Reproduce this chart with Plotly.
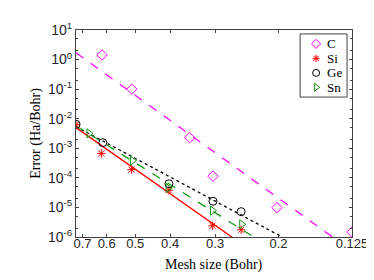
import numpy as np
import plotly.graph_objects as go

# ---- data ----
h_C = [0.618, 0.511, 0.353, 0.304, 0.202, 0.125]
err_C = [1.43, 0.10, 2.27e-3, 1.14e-4, 9.8e-6, 1.47e-6]

h_Si = [0.73, 0.621, 0.512, 0.403, 0.305, 0.254]
err_Si = [6.3e-3, 6.7e-4, 1.9e-4, 3.8e-5, 2.4e-6, 1.75e-6]

h_Ge = [0.73, 0.615, 0.403, 0.304, 0.254]
err_Ge = [6.5e-3, 1.55e-3, 6.3e-5, 1.62e-5, 7.2e-6]

h_Sn = [0.672, 0.509, 0.405, 0.305, 0.253]
err_Sn = [3.2e-3, 3.8e-4, 4.5e-5, 7.8e-6, 2.7e-6]

# fitted convergence lines: error at h = 0.73 and the rate (log-log slope)
fit_h0 = 0.73
fit_err0 = {"C": 1.71, "Si": 5.0e-3, "Ge": 5.4e-3, "Sn": 5.8e-3}
fit_rate = {"C": 8.75, "Si": 8.55, "Ge": 6.52, "Sn": 7.62}

names = ["C", "Si", "Ge", "Sn"]
x_ticks = [0.7, 0.6, 0.5, 0.4, 0.3, 0.2, 0.125]
x_ticktext = ["0.7", "0.6", "0.5", "0.4", "0.3", "0.2", "0.125"]
y_exponents = [-6, -5, -4, -3, -2, -1, 0, 1]
y_ticks = [10.0 ** e for e in y_exponents]
y_ticktext = ["10<sup>%d</sup>" % e for e in y_exponents]
h_min, h_max = 0.125, 0.73

colors = {"C": "#ff00ff", "Si": "#ff0000", "Ge": "#000000", "Sn": "#119911"}
dashes = {"C": "dash", "Si": "solid", "Ge": "dot", "Sn": "dash"}
symbols = {"C": "diamond-open", "Si": "asterisk-open", "Ge": "circle-open", "Sn": "triangle-right-open"}
sizes = {"C": 8, "Si": 7, "Ge": 8, "Sn": 8}
series = {"C": (h_C, err_C), "Si": (h_Si, err_Si), "Ge": (h_Ge, err_Ge), "Sn": (h_Sn, err_Sn)}

fig = go.Figure()
hh = np.geomspace(h_max, h_min, 60)
for name in names:
    yy = fit_err0[name] * (hh / fit_h0) ** fit_rate[name]
    fig.add_trace(go.Scatter(x=hh, y=yy, mode="lines", showlegend=False,
                             line=dict(color=colors[name], dash=dashes[name], width=1.3),
                             hoverinfo="skip"))
for name in names:
    hx, ey = series[name]
    fig.add_trace(go.Scatter(x=hx, y=ey, mode="markers", name=name, showlegend=False,
                             marker=dict(symbol=symbols[name], size=sizes[name],
                                         color=colors[name],
                                         line=dict(color=colors[name], width=1))))

# ---- compact legend box (top right, inside the axes), in axes-fraction units ----
axis_color = "#404040"
leg_x0, leg_x1, leg_top = 0.812, 0.982, 0.981
leg_row = 0.070
leg_first = leg_top - 0.048
leg_sym_x = leg_x0 + 0.058
leg_txt_x = leg_x0 + 0.090
leg_ys = [leg_first - i * leg_row for i in range(len(names))]
leg_bottom = leg_ys[-1] - 0.047

fig.add_shape(type="rect", xref="paper", yref="paper",
              x0=leg_x0, x1=leg_x1, y0=leg_bottom, y1=leg_top,
              line=dict(color=axis_color, width=1), fillcolor="white", layer="below")
for name, ly in zip(names, leg_ys):
    fig.add_trace(go.Scatter(x=[leg_sym_x], y=[ly], xaxis="x2", yaxis="y2",
                             mode="markers", showlegend=False, hoverinfo="skip",
                             cliponaxis=False,
                             marker=dict(symbol=symbols[name], size=sizes[name] - 1,
                                         color=colors[name],
                                         line=dict(color=colors[name], width=1))))
    fig.add_annotation(x=leg_txt_x, y=ly, xref="paper", yref="paper", text=name,
                       showarrow=False, xanchor="left", yanchor="middle",
                       font=dict(family="Liberation Serif", size=13, color="black"))

fig.add_annotation(x=0.5, y=-0.133, xref="paper", yref="paper", text="Mesh size (Bohr)",
                   showarrow=False, xanchor="center", yanchor="middle",
                   font=dict(family="Liberation Serif", size=14, color="black"))

fig.update_layout(
    width=374, height=280,
    margin=dict(l=68, r=30, t=19, b=51),
    paper_bgcolor="white", plot_bgcolor="white",
    font=dict(family="Liberation Sans", size=13, color="#262626"),
    showlegend=False,
    xaxis=dict(type="log", range=[np.log10(h_max), np.log10(h_min)],
               tickvals=x_ticks, ticktext=x_ticktext, ticklabelstandoff=-6,
               ticks="inside", ticklen=3, tickcolor=axis_color,
               showline=True, linecolor=axis_color, linewidth=1, mirror="ticks",
               showgrid=False, zeroline=False),
    yaxis=dict(type="log", range=[-6, 1], tickvals=y_ticks, ticktext=y_ticktext,
               tickfont=dict(size=14),
               ticks="inside", ticklen=3, tickcolor=axis_color,
               minor=dict(ticks="inside", ticklen=2, tickcolor=axis_color, showgrid=False),
               showline=True, linecolor=axis_color, linewidth=1, mirror="ticks",
               showgrid=False, zeroline=False,
               title=dict(text="Error (Ha/Bohr)", standoff=4,
                          font=dict(family="Liberation Serif", size=14, color="black"))),
    xaxis2=dict(overlaying="x", range=[0, 1], visible=False, fixedrange=True),
    yaxis2=dict(overlaying="y", range=[0, 1], visible=False, fixedrange=True),
)

fig.write_html("out.html")
